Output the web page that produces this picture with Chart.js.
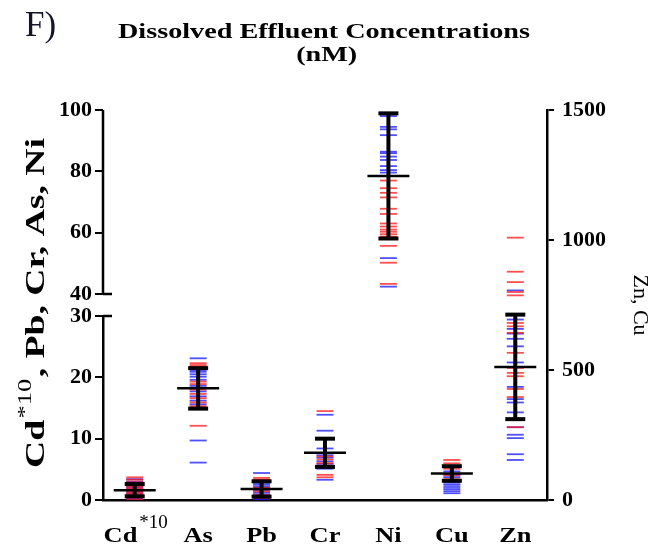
<!DOCTYPE html>
<html>
<head>
<meta charset="utf-8">
<script src="https://cdn.jsdelivr.net/npm/chart.js@4"></script>
<style>
  html, body { margin: 0; padding: 0; background: #fff; }
  #wrap { width: 657px; height: 552px; position: relative; }
</style>
</head>
<body>
<div id="wrap"><canvas id="chart"></canvas></div>
<script>
const categories = ['Cd', 'As', 'Pb', 'Cr', 'Ni', 'Cu', 'Zn'];
// which axis each element is read on (Cd is x10)
const axisOf = ['y', 'y', 'y', 'y', 'yTop', 'y2', 'y2'];

const redValues = [
    [3.7, 3.3, 2.9, 2.5, 2.2, 1.9, 1.6, 1.3, 1.0, 0.7, 0.4, 0.1],
    [22.3, 22.0, 21.7, 19.3, 18.9, 18.0, 17.3, 16.6, 15.9, 15.3, 12.1],
    [3.6, 3.3, 2.0, 1.4, 0.8, 0.3],
    [14.5, 7.1, 6.6, 6.0, 5.6, 4.1, 3.7],
    [77.0, 74.5, 73.0, 71.5, 67.8, 66.1, 63.0, 62.0, 61.0, 60.3, 59.5, 58.7, 55.7, 50.2, 43.3],
    [154, 141, 120, 95, 80],
    [1009, 878, 838, 800, 787, 681, 668, 643, 566, 508, 489, 476, 427, 396, 280]
];
const blueValues = [
    [3.4, 3.0, 2.7, 2.3, 2.0, 1.7, 1.4, 1.1, 0.8, 0.5, 0.2, 0.0],
    [23.1, 21.2, 20.9, 20.5, 20.1, 19.6, 18.6, 17.7, 16.9, 16.2, 15.6, 9.7, 6.1],
    [4.4, 2.8, 2.5, 2.2, 1.9, 1.6, 1.2, 0.9, 0.6, 0.4, 0.2, 0.0],
    [13.9, 11.3, 8.4, 7.3, 6.9, 6.3, 5.9, 5.1, 3.3],
    [98.0, 94.5, 93.7, 91.8, 86.4, 85.9, 84.8, 83.7, 81.7, 80.4, 79.6, 51.7, 42.4],
    [110, 98, 88, 75, 66, 58, 50, 42, 34, 26],
    [806, 694, 658, 640, 620, 591, 529, 435, 388, 375, 337, 280, 251, 238, 176, 154]
];
const means = [1.6, 18.2, 1.8, 7.7, 78.5, 102, 512];
const sds = [1.0, 3.3, 1.25, 2.3, 20.4, 28, 201];

const lowerTicks = [0, 10, 20, 30];
const upperTicks = [40, 60, 80, 100];
const rightTicks = [0, 500, 1000, 1500];

const serif = "'Liberation Serif', 'Times New Roman', serif";
const red = 'rgba(255, 20, 20, 0.75)';
const blue = 'rgba(20, 20, 255, 0.75)';

const datasets = [];
categories.forEach((cat, i) => {
    datasets.push({
        data: [{ x: i, y: means[i] - sds[i] }, { x: i, y: means[i] + sds[i] }],
        yAxisID: axisOf[i],
        showLine: true,
        borderColor: '#000',
        borderWidth: 4,
        pointStyle: 'line',
        pointRadius: 10,
        pointBorderWidth: 4,
        pointBorderColor: '#000',
        order: 0
    });
    datasets.push({
        data: [{ x: i, y: means[i] }],
        yAxisID: axisOf[i],
        pointStyle: 'line',
        pointRadius: 21,
        pointBorderWidth: 2.5,
        pointBorderColor: '#000',
        borderColor: '#000',
        order: 0
    });
    [[redValues[i], red], [blueValues[i], blue]].forEach(([vals, col]) => {
        datasets.push({
            data: vals.map(v => ({ x: i, y: v })),
            yAxisID: axisOf[i],
            pointStyle: 'line',
            pointRadius: 8.5,
            pointBorderWidth: 1.8,
            pointBorderColor: col,
            borderColor: col,
            order: 1
        });
    });
});

const tickFont = { family: serif, size: 22, weight: 'bold' };
const axisGrid = { drawOnChartArea: false, color: '#000', lineWidth: 2, tickLength: 8 };
const plainTick = v => String(v);

const decorations = {
    id: 'decorations',
    afterDraw(chart) {
        const ctx = chart.ctx;
        const { y, yTop, x } = chart.scales;
        ctx.save();
        ctx.strokeStyle = '#000';
        ctx.lineWidth = 2.5;
        // upper segment of the broken left axis
        const ax = y.right;
        ctx.beginPath();
        ctx.moveTo(ax, yTop.getPixelForValue(100));
        ctx.lineTo(ax, yTop.getPixelForValue(40));
        ctx.moveTo(ax, yTop.getPixelForValue(40));
        ctx.lineTo(ax + 9, yTop.getPixelForValue(40));
        ctx.moveTo(ax, y.getPixelForValue(30));
        ctx.lineTo(ax + 9, y.getPixelForValue(30));
        ctx.stroke();

        // panel letter
        ctx.font = '35px ' + serif;
        ctx.textAlign = 'left';
        ctx.textBaseline = 'alphabetic';
        ctx.fillStyle = '#14142a';
        ctx.fillText('F)', 25, 36);
        ctx.fillStyle = '#000';

        // title, stretched sideways like the original
        ctx.font = 'bold 21px ' + serif;
        const line1 = 'Dissolved Effluent Concentrations';
        const sx = 412 / ctx.measureText(line1).width;
        ctx.textAlign = 'center';
        ctx.save();
        ctx.translate(324, 38);
        ctx.scale(sx, 1);
        ctx.fillText(line1, 0, 0);
        ctx.fillText('(nM)', 2, 23);
        ctx.restore();

        // category labels
        categories.forEach((cat, i) => {
            const cx = x.getPixelForValue(i);
            ctx.save();
            ctx.translate(cx, 542);
            ctx.font = 'bold 22px ' + serif;
            const w1 = ctx.measureText(cat).width * 1.2;
            let w2 = 0;
            if (i === 0) {
                ctx.font = '19px ' + serif;
                w2 = ctx.measureText('*10').width;
            }
            const start = -(w1 + w2) / 2;
            ctx.textAlign = 'left';
            ctx.save();
            ctx.translate(start, 0);
            ctx.scale(1.2, 1);
            ctx.font = 'bold 22px ' + serif;
            ctx.fillText(cat, 0, 0);
            ctx.restore();
            if (i === 0) {
                ctx.font = '19px ' + serif;
                ctx.fillText('*10', start + w1 + 2, -14);
            }
            ctx.restore();
        });

        // left axis title with superscript, stretched along its baseline
        ctx.save();
        ctx.translate(44, 303);
        ctx.rotate(-Math.PI / 2);
        const bold = 'bold 27px ' + serif;
        const sup = '19px ' + serif;
        ctx.font = bold;
        const wa = ctx.measureText('Cd').width;
        const wc = ctx.measureText(', Pb, Cr, As, Ni').width;
        ctx.font = sup;
        const wb = ctx.measureText('*10').width;
        const total = wa + wb + wc + 2;
        const k = 330 / total;
        ctx.scale(k, 1);
        ctx.textAlign = 'left';
        let px = -total / 2;
        ctx.font = bold;
        ctx.fillText('Cd', px, 0);
        px += wa + 1;
        ctx.font = sup;
        ctx.fillText('*10', px, -13);
        px += wb + 1;
        ctx.font = bold;
        ctx.fillText(', Pb, Cr, As, Ni', px, 0);
        ctx.restore();

        ctx.restore();
    }
};

new Chart(document.getElementById('chart'), {
    type: 'scatter',
    data: { datasets },
    options: {
        responsive: true,
        maintainAspectRatio: false,
        animation: false,
        events: [],
        layout: { padding: { top: 110, left: 0, right: 0, bottom: 0 } },
        plugins: { legend: { display: false }, tooltip: { enabled: false } },
        scales: {
            x: {
                type: 'linear',
                min: -0.5,
                max: 6.5,
                grid: { display: false },
                border: { color: '#000', width: 2.5 },
                ticks: { display: false },
                afterFit: s => { s.height = 52; }
            },
            y: {
                type: 'linear',
                position: 'left',
                stack: 'left',
                stackWeight: 184,
                min: 0,
                max: 30,
                afterBuildTicks: s => { s.ticks = lowerTicks.map(v => ({ value: v })); },
                grid: axisGrid,
                border: { color: '#000', width: 2.5 },
                ticks: { color: '#000', font: tickFont, padding: 3, callback: plainTick },
                afterFit: s => { s.width = 103; }
            },
            yTop: {
                type: 'linear',
                position: 'left',
                stack: 'left',
                stackWeight: 206,
                min: 40 - 22 * 60 / 184,
                max: 100,
                afterBuildTicks: s => { s.ticks = upperTicks.map(v => ({ value: v })); },
                grid: axisGrid,
                border: { display: false },
                ticks: { color: '#000', font: tickFont, padding: 3, callback: plainTick },
                afterFit: s => { s.width = 103; }
            },
            y2: {
                type: 'linear',
                position: 'right',
                min: 0,
                max: 1500,
                afterBuildTicks: s => { s.ticks = rightTicks.map(v => ({ value: v })); },
                grid: { drawOnChartArea: false, color: '#000', lineWidth: 2, tickLength: 7 },
                border: { color: '#000', width: 2.5 },
                ticks: { color: '#000', font: tickFont, padding: 8, callback: plainTick },
                title: {
                    display: true,
                    text: 'Zn, Cu',
                    color: '#000',
                    font: { family: serif, size: 22 },
                    padding: { top: 4, bottom: 0 }
                },
                afterFit: s => { s.width = 110; }
            }
        }
    },
    plugins: [decorations]
});
</script>
</body>
</html>
